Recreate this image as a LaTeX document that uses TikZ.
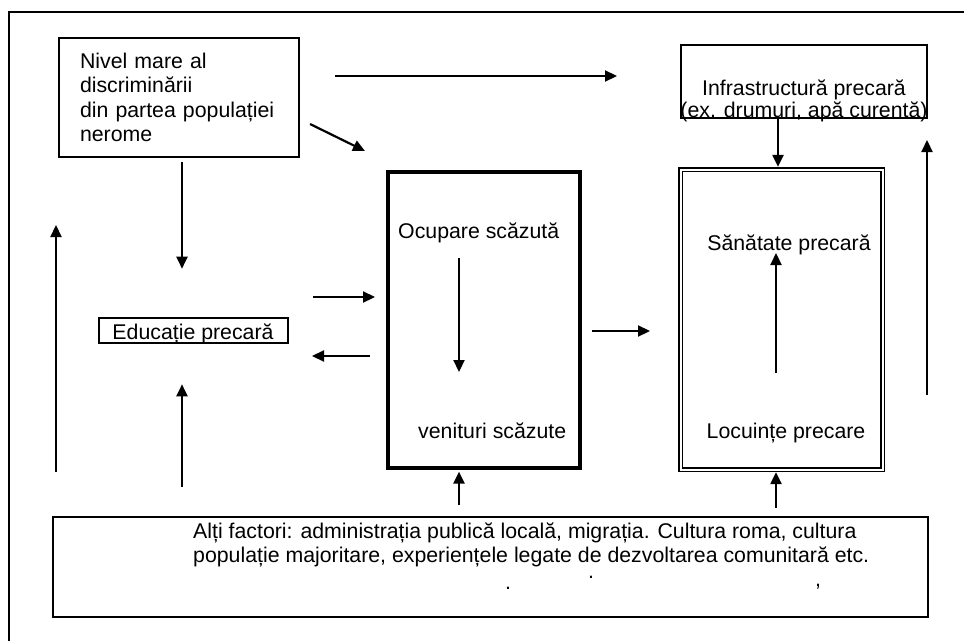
\documentclass[tikz,border=0pt]{standalone}
\usepackage{fontspec}
\setmainfont{Liberation Sans}
\usetikzlibrary{arrows.meta}

\begin{document}
\begin{tikzpicture}[x=1pt,y=-1pt,
    every node/.style={font=\fontsize{21.3}{24.5}\selectfont, inner sep=0pt},
    arr/.style={line width=2.2pt, -{Triangle[length=12pt,width=11pt]}}]
                \useasboundingbox (0,0) rectangle (964,640);
                \clip (0,0) rectangle (964,640);
                % outer frame
                \draw [black, line width=2.4pt] (9,12) rectangle (980,660);
                % boxes
                \node [draw, line width=1.6pt, minimum width=240pt, minimum height=119pt, text width=198pt, align=left] (nivel) at (179,97.5)
                    {Nivel mare al\\ discriminării\\ din partea populației\\ nerome};
                \node [anchor=base, align=center, font=\fontsize{21.3}{22}\selectfont] (infratxt) at (804,117)
                    {Infrastructură precară\\(ex. drumuri, apă curentă)};
                \node [draw, line width=2pt, minimum width=246pt, minimum height=73pt] (infra) at (804,81.5) {};
                \node [draw, line width=2.6pt, minimum width=189pt, minimum height=25pt] (educ) at (193.5,330.5) {};
                \node [anchor=base] (eductxt) at (193,339) {Educație precară};
                \node [draw, line width=3.2pt, minimum width=192pt, minimum height=296pt] (ocupbox) at (484,320) {};
                \node [anchor=base west] (ocupare) at (398,238) {Ocupare scăzută};
                \node [anchor=base west] (venituri) at (418,438) {venituri scăzute};
                \node [draw, line width=1.3pt, double, double distance=2pt, minimum width=202pt, minimum height=300pt] (health) at (781.5,319.5) {};
                \node [anchor=base] (sanatate) at (789,250) {Sănătate precară};
                \node [anchor=base] (locuinte) at (786,438) {Locuințe precare};
                \node [draw, line width=2.6pt, minimum width=875pt, minimum height=100pt] (altii) at (490.5,567) {};
                \node [anchor=base west, align=left, font=\fontsize{21.3}{24}\selectfont] (altiitxt) at (193,562)
                    {Alți factori: administrația publică locală, migrația. Cultura roma, cultura\\
                     populație majoritare, experiențele legate de dezvoltarea comunitară etc.};
                \node [anchor=base] (dot1) at (508,589) {.};
                \node [anchor=base] (dot2) at (591,578) {.};
                \node [anchor=base] (comma) at (818,586) {,};
                % free arrow ends
                \coordinate (top1) at (335,76);
                \coordinate (top2) at (617,76);
                \coordinate (diag1) at (310,124);
                \coordinate (diag2) at (365,151);
                \coordinate (left1) at (56,472);
                \coordinate (left2) at (56,225);
                \coordinate (right1) at (927,395);
                \coordinate (right2) at (927,140);
                \coordinate (educup) at (182,487);
                \coordinate (to1) at (313,297);
                \coordinate (to2) at (375,297);
                \coordinate (fr1) at (370,356);
                \coordinate (fr2) at (312,356);
                \coordinate (mid1) at (592,331);
                \coordinate (mid2) at (650,331);
                \coordinate (oc1) at (459,258);
                \coordinate (oc2) at (459,372);
                \coordinate (lo1) at (776,373);
                \coordinate (lo2) at (776,253);
                \coordinate (ocup) at (459,505);
                \coordinate (heup) at (776,508);
                % arrows
                \draw [arr] (top1) -- (top2);
                \draw [arr] (diag1) -- (diag2);
                \draw [arr] ([xshift=3pt,yshift=-4pt]nivel.south) -- ([xshift=-11.5pt,yshift=48pt]educ.north);
                \draw [arr] (educup) -- ([xshift=-11.5pt,yshift=-40pt]educ.south);
                \draw [arr] (left1) -- (left2);
                \draw [arr] ([xshift=-26pt]infra.south) -- ([xshift=-3.5pt,yshift=2pt]health.north);
                \draw [arr] (right1) -- (right2);
                \draw [arr] (to1) -- (to2);
                \draw [arr] (fr1) -- (fr2);
                \draw [arr] (mid1) -- (mid2);
                \draw [arr] (oc1) -- (oc2);
                \draw [arr] (lo1) -- (lo2);
                \draw [arr] (ocup) -- ([xshift=-25pt,yshift=-2pt]ocupbox.south);
                \draw [arr] (heup) -- ([xshift=-5.5pt,yshift=-2pt]health.south);
            \end{tikzpicture}
\end{document}
